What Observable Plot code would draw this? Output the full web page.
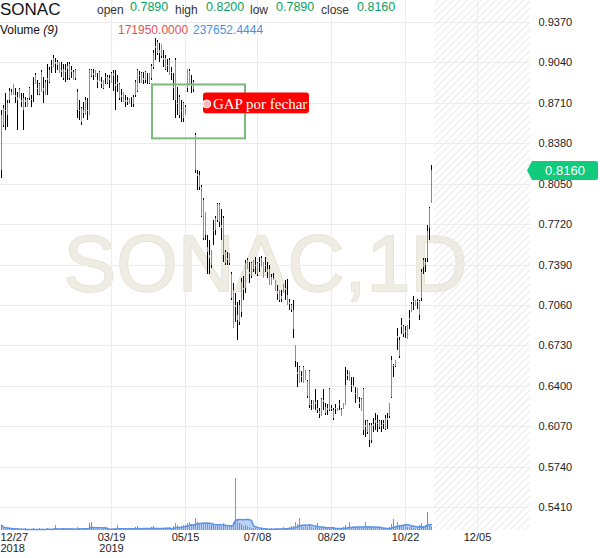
<!DOCTYPE html>
<html><head><meta charset="utf-8">
<script src="https://cdn.jsdelivr.net/npm/d3@7"></script>
<script src="https://cdn.jsdelivr.net/npm/@observablehq/plot@0.6"></script>
<style>
body{margin:0;background:#fff;font-family:Arial,"Liberation Sans",sans-serif;}
#wrap{position:relative;width:600px;height:558px;overflow:hidden;background:#fff;}
#wrap svg{position:absolute;left:0;top:0;}
.h{position:absolute;white-space:nowrap;line-height:1;}
</style></head><body><div id="wrap"></div>
<script>
const symbol = "SONAC";
const interval = "1D";
const volumeLabel = "Volume";
const volumeMAPeriod = 9;
const volumeMAShown = "237652.4444";

const openP = [
.816,.867,.864,.871,.881,.877,.886,.877,.876,.882,
.873,.865,.873,.868,.883,.874,.882,.894,.883,.878,
.896,.883,.877,.890,.888,.902,.908,.904,.904,.904,
.898,.891,.898,.899,.903,.898,.896,.898,.880,.865,
.867,.863,.873,.865,.861,.893,.895,.898,.890,.896,
.888,.890,.891,.887,.890,.887,.895,.886,.888,.886,
.877,.880,.873,.873,.875,.872,.870,.877,.881,.894,
.887,.891,.896,.890,.895,.891,.900,.916,.912,.914,
.919,.908,.899,.902,.906,.896,.885,.906,.871,.876,
.865,.871,.861,.899,.897,.886,.888,.845,.811,.812,
.802,.792,.782,.753,.747,.739,.766,.777,.775,.788,
.771,.777,.749,.744,.748,.731,.718,.706,.698,.692,
.700,.720,.720,.743,.733,.740,.735,.739,.731,.741,
.737,.741,.739,.735,.735,.729,.728,.726,.717,.718,
.713,.723,.720,.714,.708,.702,.702,.673,.651,.655,
.648,.655,.653,.644,.652,.625,.628,.627,.620,.619,
.629,.628,.618,.622,.637,.622,.614,.622,.622,.625,
.621,.626,.624,.650,.652,.641,.641,.634,.638,.627,
.629,.637,.608,.602,.608,.596,.609,.612,.610,.606,
.608,.610,.605,.614,.615,.631,.656,.661,.681,.664,
.690,.689,.685,.678,.695,.700,.709,.710,.709,.698,
.712,.737,.739,.744,.769,.789];
const highP = [
.865,.869,.879,.873,.883,.882,.886,.883,.880,.883,
.879,.879,.876,.875,.884,.877,.892,.895,.890,.887,
.898,.892,.890,.903,.900,.906,.910,.908,.906,.904,
.904,.903,.903,.904,.904,.901,.898,.899,.882,.873,
.868,.872,.876,.875,.899,.899,.899,.898,.895,.897,
.892,.890,.895,.894,.894,.896,.898,.898,.894,.887,
.882,.880,.877,.876,.875,.876,.877,.890,.899,.897,
.896,.896,.897,.895,.895,.903,.914,.924,.922,.920,
.919,.914,.910,.907,.908,.900,.895,.908,.884,.877,
.873,.872,.869,.899,.899,.894,.890,.846,.816,.815,
.804,.793,.782,.763,.759,.751,.775,.779,.789,.789,
.784,.779,.751,.749,.748,.733,.724,.716,.708,.710,
.728,.730,.743,.744,.741,.741,.743,.745,.741,.745,
.746,.741,.745,.741,.739,.731,.732,.726,.722,.718,
.718,.723,.726,.727,.711,.707,.710,.673,.659,.656,
.652,.656,.653,.645,.653,.628,.628,.637,.628,.622,
.630,.637,.626,.625,.638,.624,.622,.625,.622,.628,
.622,.626,.655,.653,.652,.647,.647,.639,.638,.631,
.630,.638,.612,.612,.610,.610,.614,.618,.616,.612,
.612,.612,.616,.618,.626,.664,.658,.661,.687,.680,
.695,.690,.689,.690,.702,.708,.713,.710,.711,.710,
.735,.744,.744,.771,.786,.820];
const lowP = [
.810,.851,.849,.851,.871,.877,.877,.871,.849,.875,
.868,.849,.868,.868,.873,.868,.872,.886,.877,.877,
.880,.871,.877,.877,.887,.895,.900,.895,.898,.895,
.892,.890,.888,.890,.890,.891,.890,.890,.859,.857,
.853,.859,.861,.857,.861,.892,.890,.892,.883,.889,
.883,.882,.886,.886,.883,.887,.881,.865,.880,.873,
.872,.872,.868,.869,.870,.868,.868,.876,.880,.887,
.887,.886,.887,.886,.886,.890,.899,.906,.910,.904,
.908,.900,.898,.896,.894,.890,.873,.859,.861,.859,
.855,.855,.861,.880,.886,.879,.880,.814,.800,.800,
.778,.759,.759,.731,.731,.736,.755,.763,.774,.770,
.759,.741,.739,.739,.739,.710,.687,.692,.677,.690,
.696,.710,.716,.735,.724,.728,.733,.731,.730,.733,
.737,.728,.733,.728,.722,.722,.726,.717,.710,.708,
.708,.716,.710,.706,.702,.700,.679,.655,.639,.642,
.643,.642,.645,.630,.622,.620,.621,.620,.618,.614,
.615,.620,.616,.616,.619,.619,.612,.617,.619,.620,
.615,.621,.624,.645,.644,.635,.639,.626,.629,.622,
.619,.600,.598,.601,.590,.593,.602,.604,.602,.605,
.602,.605,.604,.605,.614,.630,.647,.655,.669,.663,
.682,.680,.679,.678,.686,.700,.702,.705,.703,.694,
.709,.731,.733,.741,.759,.789];
const closeP = [
.861,.853,.865,.861,.873,.880,.877,.876,.873,.875,
.872,.875,.872,.874,.875,.873,.882,.886,.882,.886,
.880,.881,.888,.891,.898,.901,.900,.903,.902,.895,
.896,.899,.896,.901,.891,.896,.890,.891,.865,.864,
.855,.865,.861,.864,.898,.898,.894,.892,.888,.889,
.886,.883,.892,.892,.891,.895,.893,.885,.886,.875,
.876,.872,.872,.872,.870,.872,.876,.888,.898,.893,
.895,.890,.890,.890,.887,.901,.912,.917,.921,.912,
.909,.906,.908,.901,.894,.895,.883,.873,.870,.861,
.864,.859,.868,.883,.886,.885,.882,.816,.813,.802,
.779,.761,.763,.749,.744,.751,.767,.767,.788,.774,
.769,.747,.740,.743,.740,.712,.687,.704,.694,.706,
.725,.718,.740,.735,.731,.730,.743,.738,.740,.740,
.744,.728,.738,.733,.722,.722,.726,.717,.715,.710,
.711,.716,.718,.706,.707,.706,.686,.660,.650,.642,
.647,.642,.645,.632,.624,.624,.621,.625,.622,.617,
.615,.627,.623,.620,.620,.621,.620,.621,.619,.624,
.615,.621,.641,.648,.644,.640,.639,.633,.629,.625,
.619,.604,.606,.611,.596,.608,.607,.610,.609,.611,
.607,.609,.614,.612,.626,.661,.657,.656,.679,.677,
.688,.682,.684,.690,.694,.707,.708,.705,.708,.709,
.733,.743,.741,.766,.785,.816];
const volume = [
210000,60000,45000,80000,30000,55000,25000,70000,40000,35000,
50000,30000,65000,20000,45000,30000,80000,25000,40000,60000,
35000,55000,30000,90000,40000,25000,60000,190000,45000,30000,
50000,70000,40000,35000,60000,45000,80000,30000,120000,90000,
70000,50000,60000,40000,280000,300000,90000,40000,60000,50000,
45000,30000,70000,40000,55000,35000,80000,60000,200000,45000,
40000,70000,50000,35000,60000,45000,90000,120000,150000,60000,
50000,80000,40000,60000,70000,110000,150000,90000,60000,80000,
70000,60000,90000,50000,110000,70000,150000,260000,180000,120000,
140000,200000,180000,280000,330000,250000,220000,480000,300000,260000,
240000,280000,220000,300000,260000,180000,200000,150000,230000,210000,
170000,260000,180000,120000,150000,210000,320000,2050000,380000,260000,
220000,160000,190000,140000,120000,90000,70000,60000,40000,30000,
60000,45000,80000,35000,55000,70000,40000,60000,90000,50000,
65000,110000,75000,90000,120000,170000,140000,300000,220000,480000,
180000,130000,160000,120000,210000,100000,90000,120000,280000,80000,
70000,90000,60000,110000,80000,70000,120000,60000,90000,50000,
80000,100000,180000,120000,320000,90000,150000,100000,80000,110000,
90000,140000,320000,130000,160000,100000,80000,70000,90000,60000,
70000,50000,90000,60000,110000,220000,440000,150000,320000,180000,
200000,160000,240000,130000,110000,150000,90000,95000,120000,180000,
260000,150000,210000,700000,250000,171950];

const priceTicks = [0.9370,0.9040,0.8710,0.8380,0.8050,0.7720,0.7390,0.7060,0.6730,0.6400,0.6070,0.5740,0.5410];
const dateTickIndex = [0, 55, 92, 128, 165, 202, 238];
const dateTickLabel = ["12/27\n2018", "03/19\n2019", "05/15", "07/08", "08/29", "10/22", "12/05"];

const gapZone = {x1: 75.5, x2: 122, y1: 0.842, y2: 0.886};
const gapLabel = {text: "GAP por fechar", x1: 101, x2: 154, y1: 0.8625, y2: 0.8795, x: 129.3, y: 0.8705, dot: 102.6};

const xDomain = [-0.5, 264.5];
const yDomain = [0.52223, 0.95496];
const volDomain = [0, 21000000];

const FONT = 'Arial, "Liberation Sans", sans-serif';
const UP = "#0fcb7b", DOWN = "#f8645a", VOL_DOWN = "#ec6f7c";

const n = closeP.length;
const bars = closeP.map((c, i) => ({i, open: openP[i], high: highP[i], low: lowP[i], close: c, volume: volume[i]}));
const upBars = bars.filter(d => d.close >= d.open);
const downBars = bars.filter(d => d.close < d.open);
const xTicks = dateTickIndex.map((i, k) => ({i, label: dateTickLabel[k]}));
const fmt4 = d3.format(".4f");
const bodyTop = d => Math.max(d.open, d.close);
const bodyBottom = d => Math.min(d.open, d.close);

function priceTag(index, scales, values, dimensions) {
  const last = bars[n - 1];
  const y = Math.round(scales.y(last.close)) + 0.5;
  const x0 = dimensions.width - dimensions.marginRight;
  const g = d3.create("svg:g");
  g.append("path").attr("fill", last.close >= last.open ? UP : DOWN)
    .attr("d", `M${x0 - 3},${y} L${x0 + 2},${y - 9.5} H${x0 + 66} Q${x0 + 68},${y - 9.5} ${x0 + 68},${y - 7.5} V${y + 7.5} Q${x0 + 68},${y + 9.5} ${x0 + 66},${y + 9.5} H${x0 + 2} Z`);
  g.append("text").attr("x", x0 + 35).attr("y", y).attr("dy", "0.36em")
    .attr("text-anchor", "middle").attr("fill", "#fff").attr("font-size", 13)
    .attr("font-family", FONT).text(fmt4(last.close));
  return g.node();
}

const crisp = {strokeWidth: 1, shapeRendering: "crispEdges"};

const main = Plot.plot({
  width: 600, height: 558,
  marginLeft: 0, marginRight: 70, marginTop: 0, marginBottom: 28,
  x: {domain: xDomain, axis: null},
  y: {domain: yDomain, axis: null},
  style: {background: "white", fontFamily: FONT, overflow: "visible"},
  marks: [
    Plot.text([`${symbol},${interval}`], {frameAnchor: "middle", text: d => d, fontSize: 79,
      fill: "#efece3", stroke: "#e1dccd", strokeWidth: 1.3, fontFamily: FONT}),
    Plot.rect([0], {x1: n + 0.5, x2: xDomain[1], fill: "url(#hatch)"}),
    Plot.ruleY(priceTicks, {stroke: "#ececec", ...crisp}),
    Plot.ruleX(xTicks.slice(1), {x: "i", stroke: "#ececec", ...crisp}),
    Plot.ruleX(bars, {x: "i", y1: "high", y2: bodyTop, stroke: "#000", ...crisp}),
    Plot.ruleX(bars, {x: "i", y1: bodyBottom, y2: "low", stroke: "#000", ...crisp}),
    Plot.ruleX(upBars, {x: "i", y1: "open", y2: "close", stroke: UP, ...crisp}),
    Plot.ruleX(downBars, {x: "i", y1: "open", y2: "close", stroke: DOWN, ...crisp}),
    Plot.rect([gapZone], {x1: "x1", x2: "x2", y1: "y1", y2: "y2", fill: "none", stroke: "#7dba7d", strokeWidth: 2}),
    Plot.rect([gapLabel], {x1: "x1", x2: "x2", y1: "y1", y2: "y2", fill: "#ff0000", rx: 3}),
    Plot.dot([gapLabel], {x: "dot", y: "y", r: 4, fill: "#ffb8b8", stroke: "#ffffff", strokeWidth: 1}),
    Plot.text([gapLabel], {x: "x", y: "y", text: "text", fill: "#fff", fontSize: 15,
      fontFamily: '"Liberation Serif", "Times New Roman", serif'}),
    Plot.text(priceTicks, {y: d => d, text: d => fmt4(d), frameAnchor: "right", dx: 8,
      textAnchor: "start", fontSize: 11, fill: "#222"}),
    Plot.text(xTicks.slice(0, 1), {x: "i", text: "label", frameAnchor: "bottom", dy: 3, dx: -1,
      lineAnchor: "top", textAnchor: "start", fontSize: 11, lineHeight: 1.0, fill: "#222"}),
    Plot.text(xTicks.slice(1), {x: "i", text: "label", frameAnchor: "bottom", dy: 3,
      lineAnchor: "top", fontSize: 11, lineHeight: 1.0, fill: "#222"}),
    priceTag
  ]
});

d3.select(main).insert("defs", ":first-child").html(
  '<pattern id="hatch" width="5" height="5" patternUnits="userSpaceOnUse" patternTransform="rotate(45)">' +
  '<line x1="0" y1="0" x2="0" y2="5" stroke="#e4e4e4" stroke-width="1.6"/></pattern>');

const vol = Plot.plot({
  width: 600, height: 558,
  marginLeft: 0, marginRight: 70, marginTop: 0, marginBottom: 28,
  x: {domain: xDomain, axis: null},
  y: {domain: volDomain, axis: null},
  style: "background: transparent;",
  marks: [
    Plot.areaY(bars, Plot.windowY({k: volumeMAPeriod, anchor: "end", reduce: "mean"},
      {x: "i", y: "volume", fill: "#a7c7f2", fillOpacity: 0.8})),
    Plot.ruleX(upBars, {x: "i", y1: 0, y2: "volume", stroke: UP, ...crisp}),
    Plot.ruleX(downBars, {x: "i", y1: 0, y2: "volume", stroke: VOL_DOWN, ...crisp}),
    Plot.lineY(bars, Plot.windowY({k: volumeMAPeriod, anchor: "end", reduce: "mean"},
      {x: "i", y: "volume", stroke: "#5d93e6", strokeWidth: 1.5}))
  ]
});

const wrap = document.getElementById("wrap");
wrap.appendChild(main);
wrap.appendChild(vol);

// header
const last = bars[n - 1];
const GREEN_TXT = "#0b9e5e";
function addText(txt, left, top, size, color, extra) {
  const d = document.createElement("div");
  d.className = "h";
  d.textContent = txt;
  d.style.left = left + "px";
  d.style.top = top + "px";
  d.style.fontSize = size + "px";
  d.style.color = color;
  if (extra) Object.assign(d.style, extra);
  wrap.appendChild(d);
  return d;
}
addText(symbol, 0, 1, 17, "#111");
const ohlc = [["open", last.open, 97, 130], ["high", last.high, 175, 206], ["low", last.low, 250, 276], ["close", last.close, 321, 357]];
for (const [lab, val, lx, vx] of ohlc) {
  addText(lab, lx, 4, 12, "#333");
  addText(fmt4(val), vx, 1, 12.5, GREEN_TXT);
}
const vl = addText("", 0, 24, 12, "#111");
vl.innerHTML = volumeLabel + ' <i>(' + volumeMAPeriod + ')</i>';
addText(last.volume.toFixed(4), 118, 24, 12, "#e05252");
addText(volumeMAShown, 193, 24, 12, "#4a8ee6");
</script></body></html>
